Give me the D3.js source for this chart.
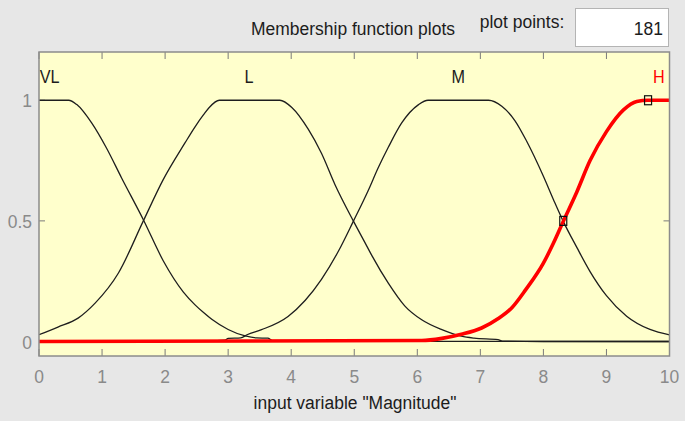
<!DOCTYPE html>
<html>
<head>
<meta charset="utf-8">
<script src="https://cdn.jsdelivr.net/npm/d3@7/dist/d3.min.js"></script>
<style>
  html, body { margin: 0; padding: 0; background: #e7e7e7; }
  svg { display: block; }
  text { font-family: "Liberation Sans", Arial, sans-serif; }
</style>
</head>
<body>
<svg id="chart" width="685" height="421"></svg>
<script>
// ---- data ----
const mfNames = ["VL", "L", "M", "H"];
const mfLabelX = [0.17, 3.33, 6.65, 9.83];

const vlX = [0, 0.47, 0.6, 0.835, 1.07, 1.31, 1.655, 1.97, 2.29, 2.475, 2.61, 2.74, 3.0, 3.27, 3.45, 3.63, 3.7, 4.5, 10];
const vlY = [1, 1, 0.982, 0.906, 0.802, 0.678, 0.505, 0.335, 0.205, 0.152, 0.12, 0.092, 0.05, 0.023, 0.015, 0.014, 0.004, 0.001, 0];

const lX = [0, 0.3, 0.62, 0.89, 1.26, 1.655, 1.97, 2.315, 2.475, 2.61, 2.7, 2.86, 3.82, 4.01, 4.27, 4.48, 4.695, 4.985, 5.17, 5.28, 5.54, 5.80, 6.07, 6.39, 6.70, 6.9, 7.28, 7.35, 8, 10];
const lY = [0.028, 0.06, 0.097, 0.159, 0.284, 0.50, 0.671, 0.823, 0.89, 0.94, 0.97, 1, 1, 0.97, 0.88, 0.78, 0.65, 0.5, 0.41, 0.356, 0.242, 0.148, 0.09, 0.049, 0.022, 0.014, 0.008, 0.002, 0, 0];

const mX = [0, 2.4, 2.95, 3.0, 3.2, 3.3, 3.53, 3.95, 4.22, 4.48, 4.75, 4.985, 5.22, 5.38, 5.54, 5.75, 6.02, 6.17, 7.13, 7.34, 7.55, 7.735, 8.0, 8.16, 8.315, 8.53, 8.74, 9.0, 9.32, 9.69, 10];
const mY = [0, 0.002, 0.006, 0.013, 0.015, 0.028, 0.049, 0.104, 0.17, 0.258, 0.375, 0.498, 0.625, 0.72, 0.805, 0.905, 0.982, 1, 1, 0.975, 0.915, 0.83, 0.685, 0.588, 0.498, 0.39, 0.29, 0.19, 0.105, 0.05, 0.028];

const hX = [0, 6.07, 6.39, 6.70, 7.02, 7.285, 7.50, 7.72, 8.0, 8.16, 8.315, 8.53, 8.74, 9.0, 9.27, 9.48, 9.66, 10];
const hY = [0, 0.004, 0.013, 0.03, 0.056, 0.095, 0.14, 0.215, 0.325, 0.408, 0.498, 0.62, 0.75, 0.87, 0.96, 0.995, 1, 1];

const handleX = [8.315, 9.66];
const handleY = [0.5, 1];

const xTicks = [0, 1, 2, 3, 4, 5, 6, 7, 8, 9, 10];
const yTicks = [0, 0.5, 1];
const yTickLabels = ["0", "0.5", "1"];

const titleText = "Membership function plots";
const plotPointsLabel = "plot points:";
const plotPointsValue = "181";
const xAxisTitle = 'input variable "Magnitude"';

// ---- layout ----
const L = 39, R = 669.5, T = 52, B = 356;
const svg = d3.select("#chart");
const x = d3.scaleLinear().domain([0, 10]).range([L, R]);
const y = d3.scaleLinear().domain([-0.06, 1.2]).range([B, T]);

function txt(g, s, px, py, opts) {
  const o = Object.assign({size: 19, sx: 0.92, anchor: "middle", fill: "#1c1c1c", base: "auto", weight: "normal"}, opts || {});
  return g.append("text")
    .attr("transform", `translate(${px},${py}) scale(${o.sx},1)`)
    .attr("text-anchor", o.anchor)
    .attr("dominant-baseline", o.base)
    .attr("font-size", o.size)
    .attr("font-weight", o.weight)
    .attr("fill", o.fill)
    .text(s);
}

// header
txt(svg, titleText, 353, 35);
txt(svg, plotPointsLabel, 522, 28);
svg.append("rect").attr("x", 575.5).attr("y", 8.5).attr("width", 93).attr("height", 38)
  .attr("fill", "#ffffff").attr("stroke", "#b4b4b4").attr("stroke-width", 1);
txt(svg, plotPointsValue, 663, 35, {anchor: "end"});

// plot background
svg.append("rect").attr("x", L).attr("y", T).attr("width", R - L).attr("height", B - T)
  .attr("fill", "#ffffcc");

svg.append("clipPath").attr("id", "clip").append("rect")
  .attr("x", L).attr("y", T).attr("width", R - L).attr("height", B - T);

// ticks (inward, all four sides)
const tickG = svg.append("g").attr("stroke", "#7a7a7a").attr("stroke-width", 1);
xTicks.forEach(v => {
  tickG.append("line").attr("x1", x(v)).attr("x2", x(v)).attr("y1", B).attr("y2", B - 7);
  tickG.append("line").attr("x1", x(v)).attr("x2", x(v)).attr("y1", T).attr("y2", T + 7);
});
yTicks.forEach(v => {
  tickG.append("line").attr("x1", L).attr("x2", L + 6).attr("y1", y(v)).attr("y2", y(v));
  tickG.append("line").attr("x1", R).attr("x2", R - 6).attr("y1", y(v)).attr("y2", y(v));
});

// axis tick labels
xTicks.forEach(v => txt(svg, String(v), x(v), 383, {fill: "#8a8a8a"}));
yTicks.forEach((v, i) => txt(svg, yTickLabels[i], 32, y(v) + 7, {fill: "#8a8a8a", anchor: "end"}));

// curves
const line = d3.line().x(d => x(d[0])).y(d => y(d[1])).curve(d3.curveMonotoneX);
const zip = (a, b) => a.map((v, i) => [v, b[i]]);
const plotG = svg.append("g").attr("clip-path", "url(#clip)");
[[vlX, vlY], [lX, lY], [mX, mY]].forEach(([xs, ys]) => {
  plotG.append("path").datum(zip(xs, ys)).attr("d", line)
    .attr("fill", "none").attr("stroke", "#1e1e1e").attr("stroke-width", 1.3);
});
plotG.append("path").datum(zip(hX, hY)).attr("d", line)
  .attr("fill", "none").attr("stroke", "#ff0000").attr("stroke-width", 3.6);

// handles on the selected MF
handleX.forEach((hx, i) => {
  plotG.append("rect").attr("x", x(hx) - 3.5).attr("y", y(handleY[i]) - 4.5)
    .attr("width", 7).attr("height", 9)
    .attr("fill", "none").attr("stroke", "#111").attr("stroke-width", 1.2);
});

// MF labels
mfNames.forEach((n, i) => {
  txt(svg, n, x(mfLabelX[i]), 83, {size: 18, sx: 0.9, fill: n === "H" ? "#ff0000" : "#1c1c1c"});
});

// frame
svg.append("rect").attr("x", L).attr("y", T).attr("width", R - L).attr("height", B - T)
  .attr("fill", "none").attr("stroke", "#8c8c8c").attr("stroke-width", 1.5);

// x axis title
txt(svg, xAxisTitle, 355, 409);
</script>
</body>
</html>
